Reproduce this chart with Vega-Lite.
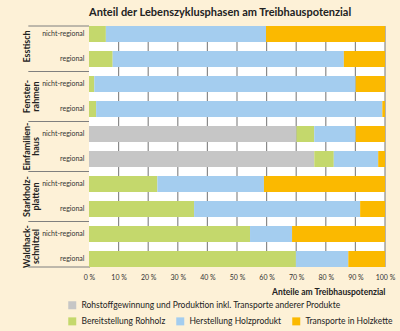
{
  "$schema": "https://vega.github.io/schema/vega-lite/v6.json",
  "width": 296,
  "height": 241,
  "autosize": {"type": "none"},
  "padding": {"left": 89, "top": 26, "right": 15, "bottom": 64},
  "background": "#fdf1d7",
  "title": {"text": "Anteil der Lebenszyklusphasen am Treibhauspotenzial", "anchor": "start", "frame": "group", "fontSize": 11, "font": "Lato", "fontWeight": "bold", "color": "#222222", "offset": 8},
  "config": {
    "view": {"stroke": null},
    "font": "Lato",
    "axisX": {"domain": false, "ticks": false, "grid": false, "labelFlush": false, "labelOverlap": false, "labelFontSize": 7, "labelColor": "#333333", "labelPadding": 6, "titleFontSize": 8.5, "titleFontWeight": "bold", "titleColor": "#222222", "titleAnchor": "end", "titlePadding": 7, "labelFont": "Lato", "titleFont": "Lato"},
    "axisY": {"domain": true, "domainColor": "#6f6f6f", "domainWidth": 1, "zindex": 1, "ticks": false, "grid": false, "labelFontSize": 7, "labelColor": "#333333", "labelPadding": 5, "labelFont": "Lato"},
    "legend": {"labelFont": "Lato", "labelFontSize": 8.5, "labelColor": "#222222", "symbolType": "square", "symbolSize": 64, "symbolStrokeWidth": 0, "labelLimit": 500, "labelOffset": 5}
  },
  "data": {"values": [
    {"key": "Esstisch|nicht-regional", "phase": "Bereitstellung Rohholz", "value": 5.7},
    {"key": "Esstisch|nicht-regional", "phase": "Herstellung Holzprodukt", "value": 54.1},
    {"key": "Esstisch|nicht-regional", "phase": "Transporte in Holzkette", "value": 40.2},
    {"key": "Esstisch|regional", "phase": "Bereitstellung Rohholz", "value": 8.0},
    {"key": "Esstisch|regional", "phase": "Herstellung Holzprodukt", "value": 78.1},
    {"key": "Esstisch|regional", "phase": "Transporte in Holzkette", "value": 13.9},
    {"key": "Fensterrahmen|nicht-regional", "phase": "Bereitstellung Rohholz", "value": 1.8},
    {"key": "Fensterrahmen|nicht-regional", "phase": "Herstellung Holzprodukt", "value": 88.3},
    {"key": "Fensterrahmen|nicht-regional", "phase": "Transporte in Holzkette", "value": 9.9},
    {"key": "Fensterrahmen|regional", "phase": "Bereitstellung Rohholz", "value": 2.4},
    {"key": "Fensterrahmen|regional", "phase": "Herstellung Holzprodukt", "value": 96.7},
    {"key": "Fensterrahmen|regional", "phase": "Transporte in Holzkette", "value": 0.9},
    {"key": "Einfamilienhaus|nicht-regional", "phase": "Rohstoffgewinnung und Produktion inkl. Transporte anderer Produkte", "value": 70.1},
    {"key": "Einfamilienhaus|nicht-regional", "phase": "Bereitstellung Rohholz", "value": 6.0},
    {"key": "Einfamilienhaus|nicht-regional", "phase": "Herstellung Holzprodukt", "value": 14.0},
    {"key": "Einfamilienhaus|nicht-regional", "phase": "Transporte in Holzkette", "value": 9.9},
    {"key": "Einfamilienhaus|regional", "phase": "Rohstoffgewinnung und Produktion inkl. Transporte anderer Produkte", "value": 76.1},
    {"key": "Einfamilienhaus|regional", "phase": "Bereitstellung Rohholz", "value": 6.6},
    {"key": "Einfamilienhaus|regional", "phase": "Herstellung Holzprodukt", "value": 15.0},
    {"key": "Einfamilienhaus|regional", "phase": "Transporte in Holzkette", "value": 2.3},
    {"key": "Starkholzplatten|nicht-regional", "phase": "Bereitstellung Rohholz", "value": 23.1},
    {"key": "Starkholzplatten|nicht-regional", "phase": "Herstellung Holzprodukt", "value": 36.0},
    {"key": "Starkholzplatten|nicht-regional", "phase": "Transporte in Holzkette", "value": 40.9},
    {"key": "Starkholzplatten|regional", "phase": "Bereitstellung Rohholz", "value": 35.5},
    {"key": "Starkholzplatten|regional", "phase": "Herstellung Holzprodukt", "value": 56.1},
    {"key": "Starkholzplatten|regional", "phase": "Transporte in Holzkette", "value": 8.4},
    {"key": "Waldhackschnitzel|nicht-regional", "phase": "Bereitstellung Rohholz", "value": 54.4},
    {"key": "Waldhackschnitzel|nicht-regional", "phase": "Herstellung Holzprodukt", "value": 14.2},
    {"key": "Waldhackschnitzel|nicht-regional", "phase": "Transporte in Holzkette", "value": 31.4},
    {"key": "Waldhackschnitzel|regional", "phase": "Bereitstellung Rohholz", "value": 69.9},
    {"key": "Waldhackschnitzel|regional", "phase": "Herstellung Holzprodukt", "value": 17.7},
    {"key": "Waldhackschnitzel|regional", "phase": "Transporte in Holzkette", "value": 12.4}
  ]},
  "datasets": {
    "gridlines": [{"t": 10}, {"t": 20}, {"t": 30}, {"t": 40}, {"t": 50}, {"t": 60}, {"t": 70}, {"t": 80}, {"t": 90}, {"t": 100}],
    "groups": [
      {"key": "Esstisch|nicht-regional", "label": ["Esstisch"]},
      {"key": "Fensterrahmen|nicht-regional", "label": ["Fenster-", "rahmen"]},
      {"key": "Einfamilienhaus|nicht-regional", "label": ["Einfamilien-", "haus"]},
      {"key": "Starkholzplatten|nicht-regional", "label": ["Starkholz-", "platten"]},
      {"key": "Waldhackschnitzel|nicht-regional", "label": ["Waldhack-", "schnitzel"]}
    ],
    "seps": [
      {"key": "Esstisch|regional"},
      {"key": "Fensterrahmen|regional"},
      {"key": "Einfamilienhaus|regional"},
      {"key": "Starkholzplatten|regional"}
    ],
    "top": [{"key": "Esstisch|nicht-regional"}],
    "bottom": [{"key": "Waldhackschnitzel|regional"}]
  },
  "layer": [
    {
      "data": {"values": [{"a": 0, "b": 100}]},
      "mark": {"type": "rect", "color": "#ffffff"},
      "encoding": {
        "x": {"field": "a", "type": "quantitative", "title": "Anteile am Treibhauspotenzial", "scale": {"domain": [0, 100]}, "axis": {"values": [0, 10, 20, 30, 40, 50, 60, 70, 80, 90, 100], "labelExpr": "datum.value + ' %'"}},
        "x2": {"field": "b"}
      }
    },
    {
      "data": {"name": "gridlines"},
      "mark": {"type": "rect", "color": "#8a8a8a", "width": 1.2},
      "encoding": {
        "x": {"field": "t", "type": "quantitative", "title": "Anteile am Treibhauspotenzial", "scale": {"domain": [0, 100]}, "axis": {"values": [0, 10, 20, 30, 40, 50, 60, 70, 80, 90, 100], "labelExpr": "datum.value + ' %'"}}
      }
    },
    {
      "transform": [
        {"calculate": "indexof(['Rohstoffgewinnung und Produktion inkl. Transporte anderer Produkte','Bereitstellung Rohholz','Herstellung Holzprodukt','Transporte in Holzkette'], datum.phase)", "as": "ord"},
        {"stack": "value", "groupby": ["key"], "sort": [{"field": "ord", "order": "ascending"}], "as": ["x0", "x1"]},
        {"filter": "datum.ord == 0"}
      ],
      "mark": {"type": "bar"},
      "encoding": {
        "y": {"field": "key", "type": "nominal", "title": null, "scale": {"domain": ["Esstisch|nicht-regional", "Esstisch|regional", "Fensterrahmen|nicht-regional", "Fensterrahmen|regional", "Einfamilienhaus|nicht-regional", "Einfamilienhaus|regional", "Starkholzplatten|nicht-regional", "Starkholzplatten|regional", "Waldhackschnitzel|nicht-regional", "Waldhackschnitzel|regional"], "paddingInner": 0.36, "paddingOuter": 0}, "axis": {"labelExpr": "split(datum.value, '|')[1]"}},
        "x": {"field": "x0", "type": "quantitative", "title": "Anteile am Treibhauspotenzial", "scale": {"domain": [0, 100]}, "axis": {"values": [0, 10, 20, 30, 40, 50, 60, 70, 80, 90, 100], "labelExpr": "datum.value + ' %'"}},
        "x2": {"field": "x1"},
        "color": {"field": "phase", "type": "nominal", "scale": {"domain": ["Rohstoffgewinnung und Produktion inkl. Transporte anderer Produkte"], "range": ["#c6c6c6"]}, "legend": {"orient": "none", "legendX": -21, "legendY": 275, "title": null}}
      }
    },
    {
      "transform": [
        {"calculate": "indexof(['Rohstoffgewinnung und Produktion inkl. Transporte anderer Produkte','Bereitstellung Rohholz','Herstellung Holzprodukt','Transporte in Holzkette'], datum.phase)", "as": "ord"},
        {"stack": "value", "groupby": ["key"], "sort": [{"field": "ord", "order": "ascending"}], "as": ["x0", "x1"]},
        {"filter": "datum.ord > 0"}
      ],
      "mark": {"type": "bar"},
      "encoding": {
        "y": {"field": "key", "type": "nominal", "title": null, "axis": {"labelExpr": "split(datum.value, '|')[1]"}},
        "x": {"field": "x0", "type": "quantitative", "title": "Anteile am Treibhauspotenzial", "scale": {"domain": [0, 100]}, "axis": {"values": [0, 10, 20, 30, 40, 50, 60, 70, 80, 90, 100], "labelExpr": "datum.value + ' %'"}},
        "x2": {"field": "x1"},
        "fill": {"field": "phase", "type": "nominal", "scale": {"domain": ["Bereitstellung Rohholz", "Herstellung Holzprodukt", "Transporte in Holzkette"], "range": ["#c4d86c", "#a4cdef", "#fbb900"]}, "legend": {"orient": "none", "legendX": -21, "legendY": 291, "title": null, "direction": "horizontal", "columnPadding": 10}}
      }
    },
    {
      "data": {"name": "groups"},
      "mark": {"type": "text", "angle": 270, "align": "center", "baseline": "middle", "fontSize": 9, "fontWeight": "bold", "font": "Lato", "color": "#222222", "lineHeight": 9},
      "encoding": {
        "y": {"field": "key", "type": "nominal", "title": null, "bandPosition": 1.28125, "axis": {"labelExpr": "split(datum.value, '|')[1]"}},
        "x": {"datum": -21, "type": "quantitative", "title": "Anteile am Treibhauspotenzial", "scale": {"domain": [0, 100]}, "axis": {"values": [0, 10, 20, 30, 40, 50, 60, 70, 80, 90, 100], "labelExpr": "datum.value + ' %'"}},
        "text": {"field": "label"}
      }
    },
    {
      "data": {"name": "seps"},
      "mark": {"type": "rule", "color": "#7f7f7f", "strokeWidth": 1},
      "encoding": {
        "y": {"field": "key", "type": "nominal", "title": null, "bandPosition": 1.28125, "axis": {"labelExpr": "split(datum.value, '|')[1]"}},
        "x": {"datum": -20.5, "type": "quantitative", "title": "Anteile am Treibhauspotenzial", "scale": {"domain": [0, 100]}, "axis": {"values": [0, 10, 20, 30, 40, 50, 60, 70, 80, 90, 100], "labelExpr": "datum.value + ' %'"}},
        "x2": {"datum": 0}
      }
    },
    {
      "data": {"name": "top"},
      "mark": {"type": "rule", "color": "#7f7f7f", "strokeWidth": 1},
      "encoding": {
        "y": {"field": "key", "type": "nominal", "title": null, "bandPosition": 0, "axis": {"labelExpr": "split(datum.value, '|')[1]"}},
        "x": {"datum": -20.5, "type": "quantitative", "title": "Anteile am Treibhauspotenzial", "scale": {"domain": [0, 100]}, "axis": {"values": [0, 10, 20, 30, 40, 50, 60, 70, 80, 90, 100], "labelExpr": "datum.value + ' %'"}},
        "x2": {"datum": 0}
      }
    },
    {
      "data": {"name": "bottom"},
      "mark": {"type": "rule", "color": "#7f7f7f", "strokeWidth": 1},
      "encoding": {
        "y": {"field": "key", "type": "nominal", "title": null, "bandPosition": 1, "axis": {"labelExpr": "split(datum.value, '|')[1]"}},
        "x": {"datum": -20.5, "type": "quantitative", "title": "Anteile am Treibhauspotenzial", "scale": {"domain": [0, 100]}, "axis": {"values": [0, 10, 20, 30, 40, 50, 60, 70, 80, 90, 100], "labelExpr": "datum.value + ' %'"}},
        "x2": {"datum": 0}
      }
    }
  ]
}
